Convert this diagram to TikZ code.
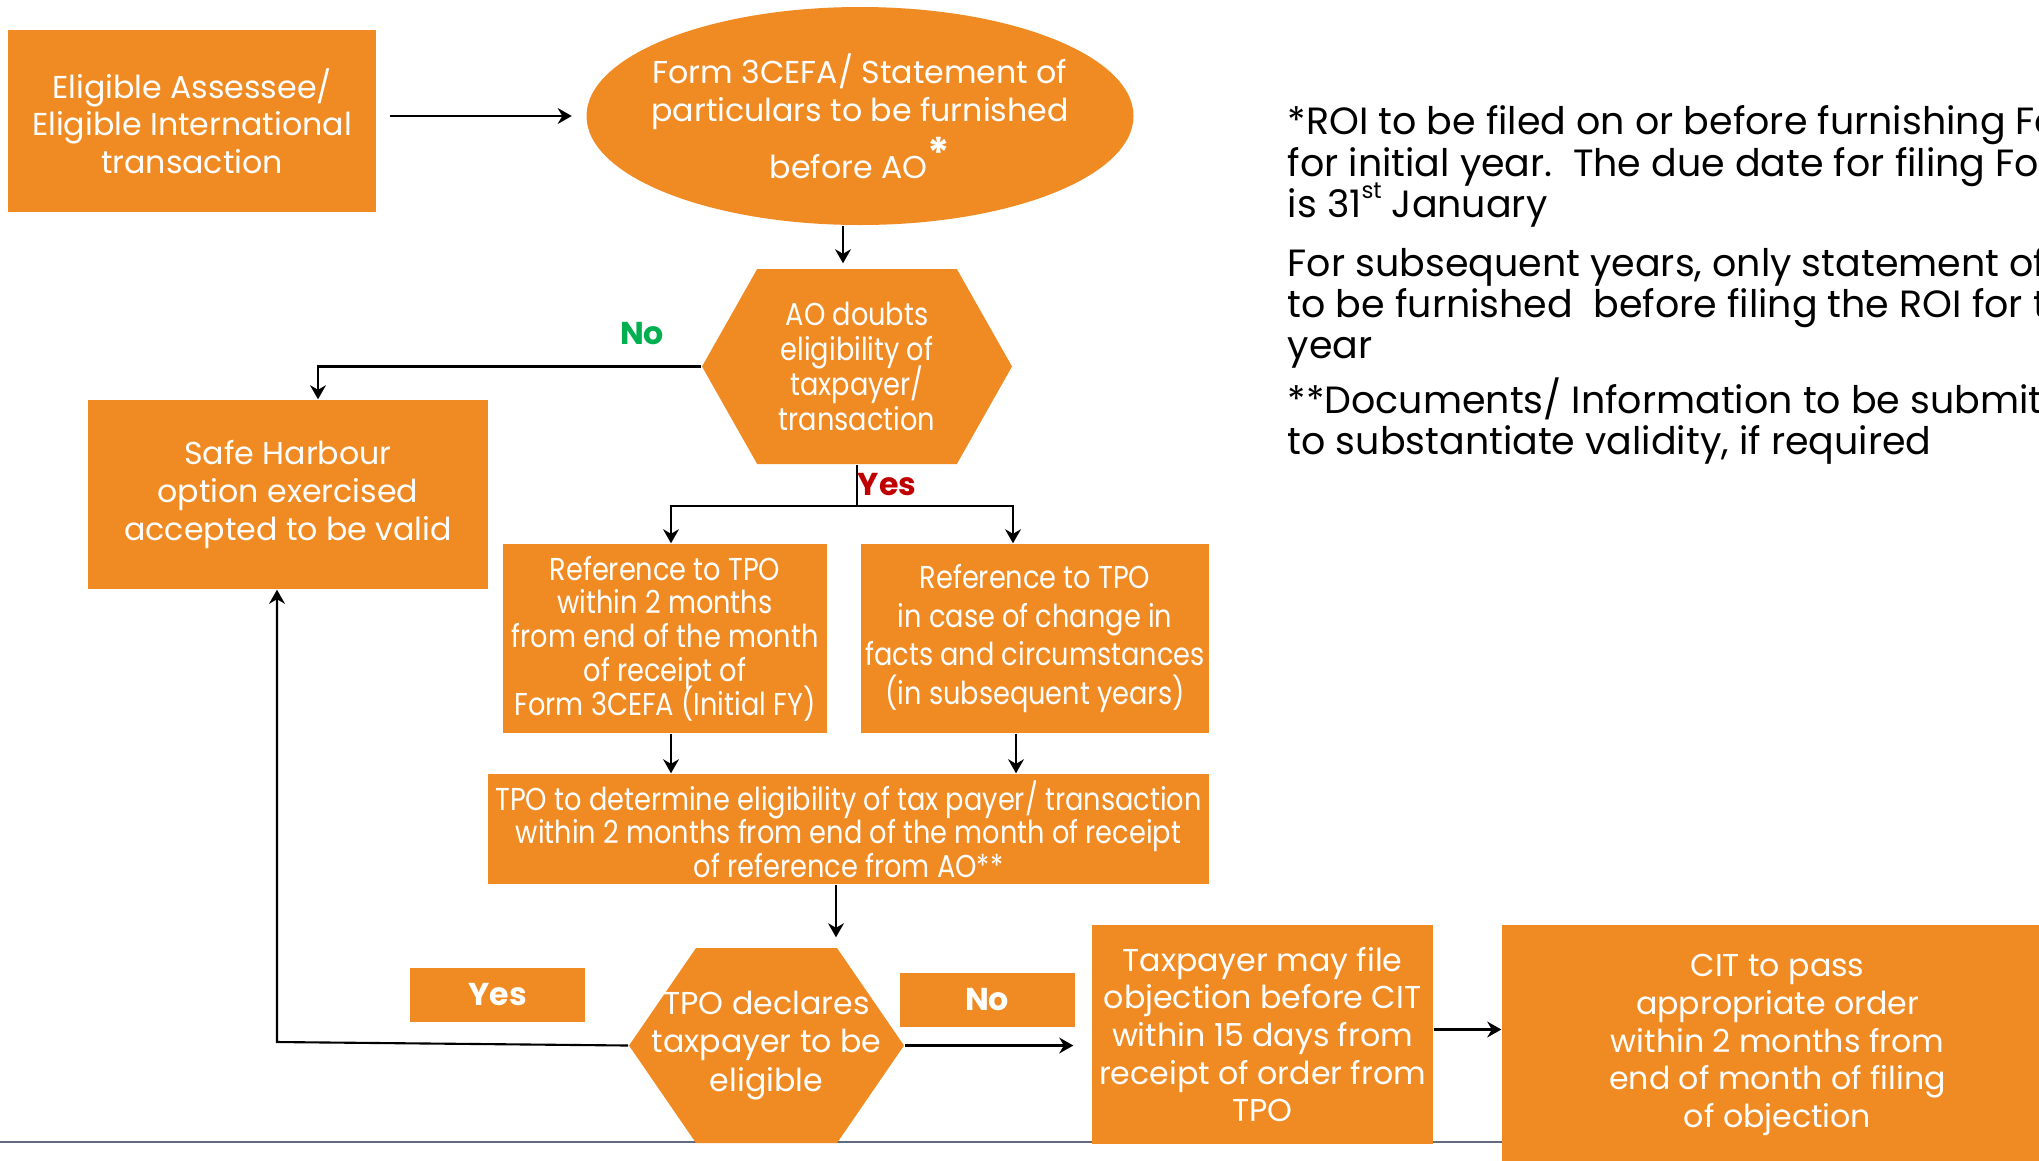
\documentclass[tikz,border=0pt]{standalone}
\usepackage{fontspec}
\setmainfont{Poppins}
\newfontfamily\narrowfont[FakeStretch=0.86]{Poppins}
\usetikzlibrary{arrows.meta,calc,positioning,shapes.geometric,shapes.symbols}
\definecolor{orng}{HTML}{F08B24}
\definecolor{nogreen}{HTML}{00B050}
\definecolor{yesred}{HTML}{C00000}
\definecolor{rule}{HTML}{646A7D}

\tikzset{
  flowbox/.style={fill=orng,text=white,align=center,inner sep=0pt,font=\fontsize{9}{10.7}\selectfont},
  decision/.style={flowbox,shape=signal,signal to=east and west,inner xsep=-5mm,inner ysep=-2mm},
  tagbox/.style={fill=orng,text=white,font=\fontsize{9}{10.7}\selectfont\bfseries,minimum width=1.75cm,minimum height=0.54cm},
  link/.style={-{Stealth[length=4pt,width=4.5pt]},line width=0.6pt},
  boldlink/.style={link,line width=0.85pt}
}

\begin{document}
\lineskiplimit=-10pt
\begin{tikzpicture}
\path[use as bounding box,clip] (0,0) rectangle (20.39,-11.6);
\draw[rule,line width=0.6pt] (0,-11.42) -- (20.39,-11.42);

\node[flowbox,minimum width=3.68cm,minimum height=1.82cm] (assessee) at (1.92,-1.21) {Eligible Assessee/\\Eligible International\\transaction};
\node[flowbox,ellipse,inner xsep=-1cm,inner ysep=-0.5cm,minimum width=5.47cm,minimum height=2.18cm] (form) at (8.60,-1.16)
  {Form 3CEFA/ Statement of\\particulars to be furnished\\[5.5pt]before AO\smash{\raisebox{0.3em}{\large\bfseries *}}};
\node[decision,signal pointer angle=121,minimum width=3.10cm,minimum height=1.95cm,font=\fontsize{9}{10}\narrowfont] (doubt) at (8.57,-3.665)
  {AO doubts\\eligibility of\\taxpayer/\\transaction};
\node[flowbox,minimum width=4.00cm,minimum height=1.89cm] (safe) at (2.88,-4.945) {Safe Harbour\\option exercised\\accepted to be valid};
\node[flowbox,minimum width=3.24cm,minimum height=1.89cm,font=\fontsize{9}{9.6}\narrowfont] (ref1) at (6.65,-6.385)
  {Reference to TPO\\within 2 months\\from end of the month\\of receipt of\\Form 3CEFA (Initial FY)};
\node[flowbox,minimum width=3.48cm,minimum height=1.89cm,font=\fontsize{9}{11}\narrowfont] (ref2) at (10.35,-6.385)
  {Reference to TPO\\in case of change in\\facts and circumstances\\(in subsequent years)};
\node[flowbox,minimum width=7.21cm,minimum height=1.10cm,font=\fontsize{9}{9.6}\narrowfont] (tpo) at (8.485,-8.29)
  {TPO to determine eligibility of tax payer/ transaction\\within 2 months from end of the month of receipt\\of reference from AO**};
\node[decision,signal pointer angle=111,minimum width=2.75cm,minimum height=1.95cm,font=\fontsize{9}{11}\selectfont] (declare) at (7.665,-10.455)
  {TPO declares\\taxpayer to be\\eligible};
\node[tagbox] (yestag) at (4.975,-9.945) {Yes};
\node[tagbox] (notag) at (9.87,-9.995) {No};
\node[flowbox,minimum width=3.41cm,minimum height=2.19cm] (taxpayer) at (12.625,-10.345)
  {Taxpayer may file\\objection before CIT\\within 15 days from\\receipt of order from\\TPO};
\node[flowbox,minimum width=5.51cm,minimum height=2.40cm] (cit) at (17.775,-10.45)
  {CIT to pass\\appropriate order\\within 2 months from\\end of month of filing\\of objection};

\node[anchor=north west,align=left,inner sep=0pt,font=\fontsize{10.8}{11.8}\selectfont] (notes) at (12.87,-1.05)
  {*ROI to be filed on or before furnishing Form 3CEFA\\
   for initial year.\ \ The due date for filing Form 3CEFA\\
   is 31\smash{\raisebox{0.5em}{\fontsize{6.5}{6.5}\selectfont st}} January\\[4.8pt]
   For subsequent years, only statement of particulars\\
   to be furnished\ \ before filing the ROI for that\\
   year\\[3.7pt]
   **Documents/ Information to be submitted\\
   to substantiate validity, if required};

\coordinate (split) at ($(doubt.south)+(0,-0.41)$);
\coordinate (yesturn) at (2.77,-10.42);

\draw[boldlink,shorten <=1.3mm,shorten >=1.4mm] (assessee.east |- form.west) -- (form.west);
\draw[link,shorten >=0.5mm] ([xshift=-1.7mm]form.south) -- ([xshift=-1.7mm]form.south |- doubt.north);
\draw[link] (doubt.west) -| ([xshift=3mm]safe.north);
\node[text=nogreen,font=\fontsize{9}{10}\selectfont\bfseries] (nolbl) at (6.42,-3.34) {No};
\draw[line width=0.6pt] (doubt.south) -- (split);
\draw[link] (split) -| ([xshift=0.6mm]ref1.north);
\draw[link] (split) -| ([xshift=-2.2mm]ref2.north);
\node[text=yesred,font=\fontsize{9}{10}\selectfont\bfseries] (yeslbl) at (8.87,-4.85) {Yes};
\draw[link] ([xshift=0.6mm]ref1.south) -- ([xshift=0.6mm]ref1.south |- tpo.north);
\draw[link] ([xshift=-1.9mm]ref2.south) -- ([xshift=-1.9mm]ref2.south |- tpo.north);
\draw[link,shorten >=1mm] ([xshift=-1.25mm]tpo.south) -- ([xshift=-1.25mm]tpo.south |- declare.north);
\draw[link] (declare.west) -- (yesturn) -- (yesturn |- safe.south);
\draw[boldlink,shorten >=1.8mm] (declare.east) -- (declare.east -| taxpayer.west);
\draw[boldlink] ([yshift=0.05cm]taxpayer.east) -- ([yshift=0.05cm]taxpayer.east -| cit.west);
\end{tikzpicture}
\end{document}
